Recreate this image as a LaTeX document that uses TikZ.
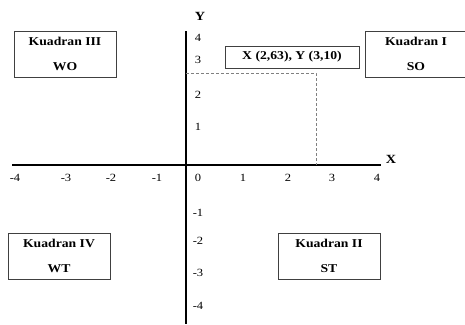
\documentclass[tikz,border=0pt]{standalone}
\usepackage{fontspec}
\setmainfont{Liberation Serif}
\newfontfamily\widefont{Liberation Serif}[FakeStretch=1.14]
\begin{document}
\begin{tikzpicture}[x=1pt,y=-1pt,
  quad/.style={draw=black!75,line width=0.9pt,minimum width=102pt,minimum height=46pt,inner sep=0pt,align=center,font=\widefont\fontsize{12}{14.4}\selectfont\bfseries},
  coordbox/.style={draw=black!75,line width=0.9pt,minimum width=134pt,minimum height=22pt,inner sep=0pt,font=\widefont\fontsize{12}{14.4}\selectfont\bfseries},
  tick/.style={font=\widefont\fontsize{11}{13}\selectfont,inner sep=0pt},
  axlab/.style={font=\widefont\fontsize{12.5}{14}\selectfont\bfseries,inner sep=0pt},
  axis/.style={line width=1.1pt,black},
  guide/.style={dashed,gray,line width=0.7pt,dash pattern=on 3pt off 2pt}]
\useasboundingbox (0,0) rectangle (465,324);
% axes
\coordinate (xl) at (12,165);
\coordinate (xr) at (381,165);
\coordinate (yt) at (186,31);
\coordinate (yb) at (186,324);
\draw[axis] (xl) -- (xr);
\draw[axis] (yt) -- (yb);
\node[axlab] (X) at (391,159) {X};
\node[axlab] (Y) at (200,16) {Y};
% x ticks
\foreach \v/\px in {-4/15,-3/66,-2/111,-1/157,0/198,1/243,2/288,3/332,4/377}
  \node[tick] (tx\v) at (\px,178) {\v};
% y ticks
\foreach \v/\py in {4/38,3/60,2/95,1/127,-1/213,-2/241,-3/273,-4/306}
  \node[tick] (ty\v) at (198,\py) {\v};
% dashed guide
\coordinate (ga) at (186,73);
\coordinate (gb) at (316,73);
\coordinate (gc) at (316,165);
\draw[guide] (ga) -- (gb) -- (gc);
% boxes
\node[coordbox] (pt) at (292,57) {X (2,63), Y (3,10)};
\node[quad] (q3) at (65,54) {Kuadran III\\[10.6pt]WO};
\node[quad] (q1) at (416,54) {Kuadran I\\[10.6pt]SO};
\node[quad] (q4) at (59,256) {Kuadran IV\\[10.6pt]WT};
\node[quad] (q2) at (329,256) {Kuadran II\\[10.6pt]ST};
\end{tikzpicture}
\end{document}
